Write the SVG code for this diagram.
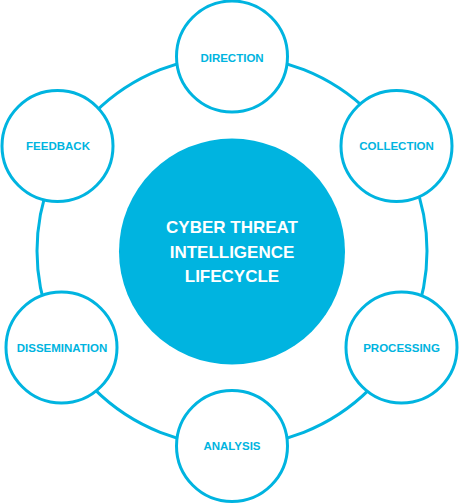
<svg xmlns="http://www.w3.org/2000/svg" width="459" height="504" viewBox="0 0 459 504">
<style>
.ring{fill:none;stroke:#00b4e0;stroke-width:3}
.node circle{fill:#ffffff;stroke:#00b4e0;stroke-width:3}
.node text{font-family:"Liberation Sans",Arial,sans-serif;font-weight:700;font-size:11.5px;fill:#00b4e0;text-anchor:middle}
.hub text{font-family:"Liberation Sans",Arial,sans-serif;font-weight:700;font-size:17px;fill:#ffffff;text-anchor:middle}
</style>
<rect width="459" height="504" fill="#ffffff"/>
<g id="connectors">
<circle class="ring" cx="232" cy="251" r="195"/>
</g>
<g id="hub" class="hub">
<circle cx="232" cy="251.5" r="113" fill="#00b4e0"/>
<text x="232" y="233">CYBER THREAT</text>
<text x="232" y="257.5">INTELLIGENCE</text>
<text x="232" y="282">LIFECYCLE</text>
</g>
<g id="direction" class="node">
<circle cx="232" cy="56.5" r="55.5"/>
<text x="232" y="61.5">DIRECTION</text>
</g>
<g id="collection" class="node">
<circle cx="396.5" cy="146" r="55.5"/>
<text x="396.5" y="150">COLLECTION</text>
</g>
<g id="processing" class="node">
<circle cx="401.5" cy="347.5" r="55.5"/>
<text x="401.5" y="351.5">PROCESSING</text>
</g>
<g id="analysis" class="node">
<circle cx="232" cy="446" r="55.5"/>
<text x="232" y="450">ANALYSIS</text>
</g>
<g id="dissemination" class="node">
<circle cx="61.5" cy="347.5" r="55.5"/>
<text x="62" y="351.5">DISSEMINATION</text>
</g>
<g id="feedback" class="node">
<circle cx="57.5" cy="146" r="55.5"/>
<text x="58" y="149.5">FEEDBACK</text>
</g>
</svg>
